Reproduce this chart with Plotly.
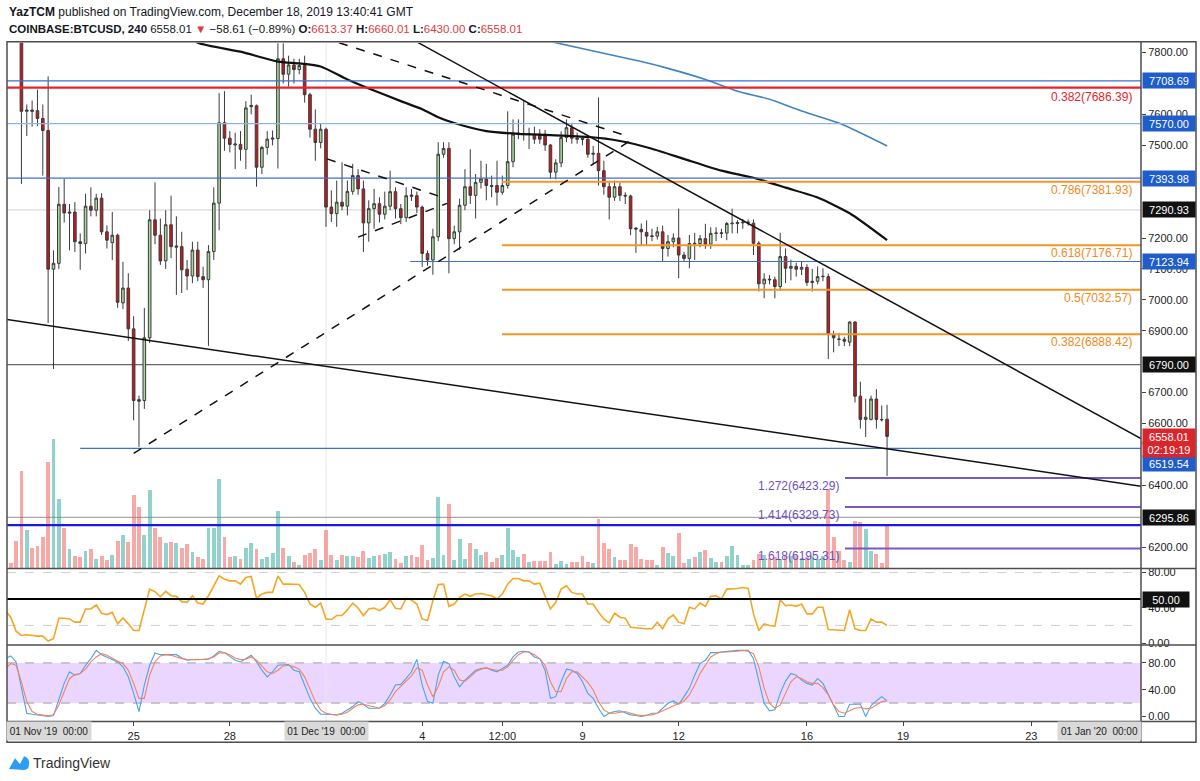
import plotly.graph_objects as go
import pandas as pd

W, H = 1200, 781
FONT = "Liberation Sans, Arial, sans-serif"


def px(x):
    return x / W


def py(y):
    return 1 - y / H


# ---------------- data (4h candles, COINBASE:BTCUSD) ----------------
bar_start = "2019-11-21 00:00"

opens = [
    8150, 8080, 8020, 7900, 7610, 7614, 7612, 7587, 7548, 7099,
    7118, 7309, 7280, 7284, 7188, 7182, 7303, 7290, 7329, 7220,
    7185, 7209, 6990, 7038, 6906, 6677, 6674, 6877, 7259, 7209,
    7126, 7243, 7170, 7172, 7099, 7077, 7161, 7075, 7065, 7156,
    7313, 7573, 7523, 7501, 7503, 7487, 7625, 7628, 7429, 7493,
    7520, 7522, 7780, 7730, 7760, 7745, 7758, 7664, 7552, 7509,
    7552, 7300, 7279, 7316, 7303, 7351, 7402, 7359, 7249, 7295,
    7311, 7277, 7303, 7350, 7295, 7266, 7339, 7337, 7300, 7150,
    7129, 7204, 7471, 7490, 7198, 7220, 7306, 7366, 7338, 7380,
    7391, 7370, 7370, 7348, 7370, 7447, 7536, 7538, 7535, 7535,
    7536, 7536, 7501, 7413, 7443, 7525, 7557, 7523, 7522, 7520,
    7471, 7474, 7418, 7366, 7332, 7366, 7338, 7336, 7232, 7228,
    7218, 7207, 7206, 7220, 7166, 7188, 7200, 7145, 7134, 7183,
    7182, 7198, 7180, 7215, 7217, 7216, 7246, 7247, 7249, 7250,
    7248, 7183, 7052, 7067, 7065, 7043, 7140, 7102, 7108, 7099,
    7105, 7056, 7060, 7075, 7075, 6888, 6873, 6872, 6863, 6928,
    6688, 6613, 6613, 6679, 6613, 6613.37,
]
highs = [
    8200, 8120, 8060, 7910, 7632, 7645, 7680, 7632, 7723, 7160,
    7365, 7391, 7310, 7316, 7215, 7343, 7364, 7343, 7345, 7241,
    7284, 7214, 7123, 7086, 6947, 6690, 6974, 7290, 7380, 7263,
    7290, 7337, 7270, 7220, 7129, 7188, 7188, 7107, 7177, 7364,
    7669, 7675, 7546, 7541, 7546, 7643, 7664, 7632, 7498, 7546,
    7548, 7830, 7830, 7790, 7780, 7780, 7790, 7670, 7616, 7570,
    7557, 7354, 7386, 7445, 7386, 7440, 7423, 7386, 7322, 7359,
    7332, 7350, 7418, 7364, 7310, 7364, 7359, 7350, 7305, 7160,
    7230, 7510, 7510, 7510, 7240, 7327, 7423, 7487, 7407, 7450,
    7440, 7402, 7450, 7402, 7610, 7584, 7584, 7643, 7557, 7560,
    7552, 7550, 7504, 7455, 7545, 7584, 7573, 7541, 7525, 7525,
    7498, 7655, 7450, 7380, 7386, 7380, 7348, 7340, 7236, 7247,
    7257, 7230, 7236, 7240, 7210, 7215, 7295, 7155, 7210, 7217,
    7210, 7246, 7235, 7235, 7230, 7252, 7295, 7258, 7262, 7260,
    7260, 7190, 7086, 7080, 7075, 7217, 7166, 7130, 7120, 7125,
    7115, 7100, 7108, 7102, 7085, 6900, 6893, 6880, 6931, 6931,
    6735, 6680, 6690, 6711, 6658, 6660.01,
]
lows = [
    8050, 7990, 7850, 7375, 7530, 7560, 7562, 7402, 6925, 6776,
    7100, 7250, 7160, 7155, 7097, 7150, 7270, 7270, 7210, 7166,
    7129, 6974, 6970, 6867, 6610, 6524, 6647, 6860, 7180, 7113,
    7100, 7135, 7016, 7022, 7032, 7054, 7060, 7038, 6851, 7129,
    7225, 7482, 7477, 7423, 7450, 7423, 7600, 7366, 7407, 7470,
    7500, 7425, 7700, 7690, 7700, 7730, 7638, 7525, 7450, 7490,
    7236, 7252, 7236, 7290, 7273, 7340, 7340, 7155, 7188, 7230,
    7250, 7260, 7290, 7263, 7245, 7252, 7320, 7280, 7107, 7110,
    7081, 7190, 7460, 7086, 7180, 7161, 7290, 7310, 7263, 7360,
    7322, 7332, 7305, 7340, 7360, 7429, 7520, 7515, 7488, 7505,
    7505, 7482, 7391, 7390, 7429, 7510, 7505, 7505, 7500, 7460,
    7439, 7370, 7340, 7260, 7320, 7320, 7310, 7209, 7152, 7177,
    7177, 7190, 7195, 7124, 7140, 7170, 7070, 7125, 7102, 7129,
    7170, 7165, 7165, 7190, 7200, 7193, 7215, 7215, 7230, 7240,
    7145, 7027, 7005, 7050, 7005, 7030, 7054, 7063, 7075, 7080,
    7045, 7027, 7050, 7060, 6808, 6830, 6850, 6850, 6850, 6668,
    6583, 6556, 6610, 6583, 6606, 6430.00,
]
closes = [
    8080, 8020, 7900, 7610, 7614, 7610, 7587, 7548, 7099, 7118,
    7309, 7281, 7284, 7188, 7182, 7303, 7290, 7329, 7220, 7193,
    7209, 6992, 7038, 6906, 6674, 6672, 6877, 7259, 7209, 7126,
    7243, 7172, 7174, 7097, 7077, 7161, 7075, 7065, 7156, 7313,
    7573, 7523, 7503, 7504, 7487, 7621, 7629, 7429, 7493, 7520,
    7523, 7780, 7730, 7760, 7745, 7758, 7664, 7552, 7509, 7552,
    7300, 7279, 7316, 7303, 7351, 7402, 7359, 7249, 7295, 7311,
    7277, 7303, 7350, 7295, 7266, 7337, 7335, 7300, 7150, 7129,
    7204, 7471, 7490, 7198, 7220, 7306, 7366, 7338, 7380, 7391,
    7370, 7367, 7348, 7370, 7447, 7536, 7539, 7535, 7537, 7520,
    7520, 7501, 7413, 7443, 7525, 7557, 7523, 7520, 7519, 7471,
    7474, 7418, 7366, 7332, 7366, 7338, 7336, 7230, 7229, 7220,
    7206, 7205, 7220, 7166, 7188, 7200, 7145, 7134, 7182, 7181,
    7198, 7180, 7215, 7216, 7215, 7247, 7248, 7250, 7251, 7251,
    7183, 7052, 7067, 7065, 7043, 7140, 7102, 7108, 7099, 7105,
    7056, 7060, 7075, 7076, 6888, 6877, 6872, 6866, 6928, 6688,
    6613, 6620, 6679, 6613, 6612, 6558.01,
]
# volume, hundreds of BTC
volumes = [
    8.3, 6, 28.3, 98.3, 39.3, 21, 23.3, 31.7, 107.7, 130.7,
    70, 41, 20, 12.7, 11.7, 18.3, 20, 10, 12.7, 9.3,
    14.3, 28.3, 34, 27.3, 75, 62.7, 34, 79.3, 41.3, 32.3,
    25.7, 27.3, 25.7, 21, 25, 16.7, 11.7, 10, 41.7, 41.7,
    90.7, 32.3, 11.7, 12.7, 10, 21, 25.7, 20, 10, 11.7,
    16, 58.3, 21, 12.7, 6.7, 4, 14.3, 16, 20, 9,
    39, 14.3, 9, 14.3, 12.7, 13.3, 11.7, 17.7, 10.7, 12.7,
    14.3, 15, 16.7, 10, 6, 13.3, 14.3, 11.7, 24, 9,
    10.7, 72.7, 14.3, 65, 9, 30, 10, 25.7, 20, 14.3,
    17.3, 6.7, 10.7, 14.3, 41.7, 19.3, 11.7, 15, 6.7, 7.7,
    7.7, 7.7, 17.3, 5, 7.7, 5, 6.7, 6.7, 12.7, 6.7,
    5.7, 50, 25.7, 20, 11.7, 9, 9, 25, 21.7, 10,
    9, 9, 4, 21.7, 15.7, 12.7, 36.7, 6, 10, 11.7,
    17.3, 19.3, 10.7, 6.7, 6.7, 13.3, 22.7, 14, 4, 4,
    9, 15, 14, 10.7, 11.7, 10, 13.3, 12.7, 13.3, 10.7,
    11.7, 12.7, 10, 13.3, 80.7, 32.3, 18.3, 9, 6.7, 48.3,
    47.3, 40, 18.3, 15, 5.7, 45.7,
]
rsi = [
    36.8, 29.3, 13.5, 8.6, 9.4, 8.6, 7.9, 7.9, 2.3, 4.9,
    28.2, 28.2, 27.4, 23.7, 23.7, 38.7, 38.7, 43.2, 33.8, 32.3,
    34.9, 21.8, 28.5, 21.8, 14.3, 14.3, 37.9, 61.2, 58.2, 52.6,
    58.6, 53.7, 53.0, 47.0, 46.2, 53.7, 45.4, 44.3, 53.7, 65.0,
    76.2, 72.5, 70.6, 70.6, 66.9, 74.4, 75.5, 50.7, 55.6, 57.5,
    57.5, 76.2, 66.9, 66.9, 66.9, 66.5, 57.5, 44.3, 40.6, 45.4,
    27.4, 26.7, 31.2, 31.2, 37.6, 45.4, 39.8, 31.2, 38.7, 39.8,
    36.8, 40.6, 49.2, 39.4, 38.7, 50.7, 48.8, 44.3, 27.4, 25.5,
    48.1, 66.5, 66.9, 41.7, 44.3, 51.8, 55.6, 53.0, 55.6, 56.3,
    54.8, 53.7, 50.0, 55.6, 66.9, 73.2, 73.2, 70.6, 70.6, 66.9,
    68.0, 53.7, 38.7, 46.2, 61.2, 65.0, 57.5, 55.6, 55.6, 44.3,
    44.3, 34.9, 27.4, 22.9, 33.8, 29.3, 28.2, 18.0, 17.3, 17.3,
    16.2, 16.2, 23.7, 16.2, 27.4, 31.9, 23.7, 21.8, 40.6, 38.7,
    45.4, 41.7, 53.0, 53.7, 50.0, 61.2, 61.2, 62.0, 63.1, 62.0,
    33.1, 14.3, 21.8, 19.9, 19.2, 49.2, 42.4, 43.2, 41.7, 44.3,
    33.1, 33.1, 40.6, 40.6, 15.4, 15.0, 15.0, 14.3, 37.9, 16.2,
    14.3, 14.3, 27.4, 23.7, 23.7, 19.9,
]
stoch_k = [
    86.4, 90.3, 81.5, 42.0, 4.9, 3.4, 2.4, 1.5, 0.0, 1.5,
    27.1, 49.4, 66.7, 61.7, 64.2, 76.5, 86.4, 98.7, 92.3, 88.9,
    85.4, 81.5, 74.1, 59.2, 34.5, 7.4, 46.9, 76.5, 94.8, 92.3,
    92.3, 92.3, 92.3, 87.4, 83.9, 84.9, 84.9, 84.9, 85.4, 90.3,
    97.3, 95.3, 88.9, 83.9, 81.5, 86.4, 91.3, 81.5, 69.1, 59.2,
    66.7, 76.5, 76.5, 77.5, 69.1, 66.7, 46.9, 27.1, 12.3, 3.4,
    3.4, 3.4, 2.4, 4.9, 9.9, 14.8, 22.2, 18.3, 12.3, 12.3,
    12.3, 19.7, 32.1, 46.9, 47.9, 56.8, 66.7, 85.4, 46.9, 22.2,
    19.7, 61.7, 82.5, 79.0, 59.2, 44.4, 54.3, 61.7, 69.1, 71.6,
    72.6, 69.1, 66.7, 71.6, 76.5, 88.9, 96.3, 97.3, 96.3, 88.9,
    86.4, 69.1, 27.1, 29.6, 51.8, 70.6, 69.1, 64.2, 51.8, 34.5,
    27.1, 12.3, 0.0, 4.9, 7.4, 8.4, 4.9, 2.4, 1.5, 0.0,
    1.5, 4.9, 4.9, 12.3, 19.7, 23.2, 18.3, 29.6, 42.0, 61.7,
    79.0, 83.9, 95.3, 95.3, 96.3, 96.3, 97.3, 98.7, 98.7, 98.7,
    86.4, 51.8, 19.7, 8.4, 9.9, 34.5, 52.8, 64.2, 61.7, 54.3,
    49.4, 46.9, 56.8, 49.4, 32.1, 17.3, 0.0, 0.0, 18.3, 18.3,
    18.3, 0.0, 16.3, 23.2, 29.6, 23.2,
]
stoch_d = [
    71.6, 79.0, 76.5, 51.8, 22.2, 7.4, 3.4, 2.4, 1.0, 2.4,
    17.3, 37.0, 56.8, 62.7, 64.2, 70.6, 81.5, 88.9, 93.8, 91.3,
    86.4, 82.5, 79.0, 69.1, 49.4, 27.1, 27.1, 61.7, 81.5, 90.3,
    92.3, 91.3, 88.9, 86.4, 85.4, 84.9, 84.9, 85.4, 86.4, 88.9,
    94.8, 95.3, 92.3, 87.4, 84.9, 85.4, 88.9, 83.9, 75.5, 66.7,
    64.2, 69.1, 75.5, 76.5, 74.1, 70.6, 59.2, 39.5, 22.2, 9.9,
    4.9, 3.4, 2.4, 3.4, 6.4, 12.3, 17.3, 18.3, 16.3, 13.3,
    12.3, 16.3, 24.7, 37.0, 44.4, 51.8, 60.7, 72.6, 69.1, 46.9,
    29.6, 44.4, 66.7, 74.1, 69.1, 54.3, 52.8, 59.2, 66.7, 70.6,
    72.6, 70.6, 69.1, 69.1, 74.1, 83.9, 92.3, 96.3, 96.3, 92.3,
    86.4, 76.5, 51.8, 37.0, 37.0, 56.8, 66.7, 66.7, 59.2, 50.8,
    39.5, 22.2, 9.9, 4.9, 4.9, 6.4, 7.4, 4.9, 2.4, 1.5,
    1.5, 2.4, 4.9, 8.4, 12.3, 16.3, 19.7, 23.2, 32.1, 46.9,
    64.2, 76.5, 88.9, 93.8, 96.3, 96.3, 96.3, 97.3, 98.7, 97.3,
    93.8, 74.1, 42.0, 19.7, 12.3, 17.3, 34.5, 51.8, 59.2, 56.8,
    51.8, 49.4, 49.4, 43.0, 32.1, 17.3, 7.4, 4.9, 8.4, 12.3,
    13.3, 11.3, 12.3, 17.3, 22.2, 23.2,
]

# moving averages read at selected bars (bar number counted from bar_start)
ma100_bars = [32, 36, 44, 51, 55, 59, 64, 68, 74, 78, 81, 84, 90, 96, 102, 109, 115, 121, 127, 134, 140, 146, 152, 158, 165]
ma100_vals = [7880, 7832, 7803, 7771, 7765, 7755, 7713, 7684, 7643, 7617, 7591, 7572, 7546, 7537, 7533, 7527, 7514,
              7489, 7456, 7418, 7395, 7363, 7331, 7280, 7193]
ma200_bars = [92, 103, 119, 124, 131, 137, 143, 149, 156, 165]
ma200_vals = [7880, 7832, 7771, 7749, 7713, 7675, 7649, 7611, 7572, 7498]

# horizontal levels
blue_levels = [7708.69, 7570.00, 7393.98, 7123.94, 6519.54]
blue_starts = [None, None, None, "2019-12-03 15:00", "2019-11-23 08:00"]
gray_levels = [7290.93, 6790.00, 6295.86]
fib_retr_levels = [7381.93, 7176.71, 7032.57, 6888.42]
fib_retr_ratios = ["0.786", "0.618", "0.5", "0.382"]
fib_retr_start = "2019-12-06 11:45"
red_level = 7686.39
red_ratio = "0.382"
fib_ext_levels = [6423.29, 6329.73, 6195.31]
fib_ext_ratios = ["1.272", "1.414", "1.618"]
fib_ext_start = "2019-12-17 04:30"
support_band = 6271

# trend lines (start date, start price, end date, end price, dashed)
trend_lines = [
    ("2019-11-21 01:12", 6936, "2019-12-26 10:05", 6397, False),
    ("2019-12-03 21:00", 7832, "2019-12-26 10:05", 6551, False),
    ("2019-11-25 00:00", 6503, "2019-12-10 11:30", 7514, True),
    ("2019-12-01 09:45", 7832, "2019-12-10 09:20", 7530, True),
    ("2019-12-01 00:45", 7456, "2019-12-04 15:35", 7331, True),
    ("2019-12-02 00:00", 7203, "2019-12-04 18:35", 7312, True),
]

price_ticks = [7800, 7600, 7500, 7200, 7100, 7000, 6900, 6700, 6600, 6400, 6200]
x_tick_dates = ["2019-11-25", "2019-11-28", "2019-12-01", "2019-12-04", "2019-12-06 12:00", "2019-12-09",
                "2019-12-12", "2019-12-16", "2019-12-19", "2019-12-23"]
x_tick_text = ["25", "28", "", "4", "12:00", "9", "12", "16", "19", "23"]

X_LEFT = "2019-11-21 01:12"
X_RIGHT = "2019-12-26 10:05"

# ---------------- figure ----------------
dates = pd.date_range(bar_start, periods=len(opens), freq="4h")

fig = go.Figure()

vol_colors = ["rgba(38,166,154,0.5)" if c >= o else "rgba(239,83,80,0.5)" for o, c in zip(opens, closes)]
fig.add_trace(go.Bar(x=dates, y=volumes, marker=dict(color=vol_colors, line=dict(width=0)),
                     width=4 * 3600 * 1000 * 0.72, xaxis="x", yaxis="y2", hoverinfo="skip"))

fig.add_trace(go.Candlestick(
    x=dates, open=opens, high=highs, low=lows, close=closes,
    increasing=dict(fillcolor="#a8d69b", line=dict(color="#3b3b3b", width=1)),
    decreasing=dict(fillcolor="#c8161d", line=dict(color="#3b3b3b", width=1)),
    whiskerwidth=0, xaxis="x", yaxis="y", hoverinfo="skip"))

fig.add_trace(go.Scatter(x=[dates[i] for i in ma100_bars], y=ma100_vals, mode="lines",
                         line=dict(color="#111111", width=2.2, shape="spline", smoothing=0.6),
                         xaxis="x", yaxis="y", hoverinfo="skip"))
fig.add_trace(go.Scatter(x=[dates[i] for i in ma200_bars], y=ma200_vals, mode="lines",
                         line=dict(color="#3f83c2", width=1.6, shape="spline", smoothing=0.6),
                         xaxis="x", yaxis="y", hoverinfo="skip"))

fig.add_trace(go.Scatter(x=dates, y=rsi, mode="lines", line=dict(color="#f5a623", width=1.6),
                         xaxis="x", yaxis="y3", hoverinfo="skip"))
fig.add_trace(go.Scatter(x=dates, y=stoch_k, mode="lines", line=dict(color="#4aa3ee", width=1.1),
                         xaxis="x", yaxis="y4", hoverinfo="skip"))
fig.add_trace(go.Scatter(x=dates, y=stoch_d, mode="lines", line=dict(color="#f3845a", width=1.1),
                         xaxis="x", yaxis="y4", hoverinfo="skip"))

shapes = []
# stoch band fill
shapes.append(dict(type="rect", xref="x domain", yref="y4", x0=0, x1=1, y0=20, y1=80,
                   fillcolor="rgba(153,51,255,0.2)", line=dict(width=0), layer="below"))
for lv in (80, 20):
    shapes.append(dict(type="line", xref="x domain", yref="y4", x0=0, x1=1, y0=lv, y1=lv,
                       line=dict(color="#a0a0a0", width=1, dash="dash"), layer="below"))
    shapes.append(dict(type="line", xref="x domain", yref="y3", x0=0, x1=1, y0=lv, y1=lv,
                       line=dict(color="#d0d0d0", width=1, dash="dash"), layer="below"))
shapes.append(dict(type="line", xref="x domain", yref="y3", x0=0, x1=1, y0=50, y1=50,
                   line=dict(color="#000000", width=2)))
# session break
shapes.append(dict(type="line", xref="x", yref="paper", x0="2019-12-01", x1="2019-12-01",
                   y0=py(725), y1=py(41), line=dict(color="#e6e6e6", width=1), layer="below"))

# horizontal levels
for p, s in zip(blue_levels, blue_starts):
    col = "#8fb3e6" if p == 7570.00 else "#3c6fd1"
    shapes.append(dict(type="line", xref="x", yref="y", x0=s or X_LEFT, x1=X_RIGHT, y0=p, y1=p,
                       line=dict(color=col, width=1.2)))
gray_cols = ["#dcdcdc", "#6a6a6a", "#a8a8a8"]
for p, c in zip(gray_levels, gray_cols):
    shapes.append(dict(type="line", xref="x", yref="y", x0=X_LEFT, x1=X_RIGHT, y0=p, y1=p,
                       line=dict(color=c, width=1.2), layer="below"))
shapes.append(dict(type="line", xref="x", yref="y", x0=X_LEFT, x1=X_RIGHT, y0=support_band, y1=support_band,
                   line=dict(color="#1a1adb", width=2.2)))
shapes.append(dict(type="line", xref="x", yref="y", x0=X_LEFT, x1=X_RIGHT, y0=red_level, y1=red_level,
                   line=dict(color="#e8232a", width=2.2)))
for p in fib_retr_levels:
    shapes.append(dict(type="line", xref="x", yref="y", x0=fib_retr_start, x1=X_RIGHT, y0=p, y1=p,
                       line=dict(color="#f39625", width=2)))
for p in fib_ext_levels:
    shapes.append(dict(type="line", xref="x", yref="y", x0=fib_ext_start, x1=X_RIGHT, y0=p, y1=p,
                       line=dict(color="#7b57c4", width=2)))
for x0, y0, x1, y1, dashed in trend_lines:
    shapes.append(dict(type="line", xref="x", yref="y", x0=x0, y0=y0, x1=x1, y1=y1,
                       line=dict(color="#111111", width=1.5, dash="dash" if dashed else "solid")))

# frame
FR = "#4d4d4d"
shapes.append(dict(type="rect", xref="paper", yref="paper", x0=px(7), x1=px(1196), y0=py(746), y1=py(40),
                   line=dict(color=FR, width=1.5)))
for yy in (571, 648, 725):
    shapes.append(dict(type="line", xref="paper", yref="paper", x0=px(7), x1=px(1196), y0=py(yy), y1=py(yy),
                       line=dict(color=FR, width=1.5)))
shapes.append(dict(type="line", xref="paper", yref="paper", x0=px(1141), x1=px(1141), y0=py(746), y1=py(40),
                   line=dict(color=FR, width=1.5)))
# TradingView logo mark
shapes.append(dict(type="path", xref="paper", yref="paper",
                   path=f"M {px(9)},{py(773)} L {px(15)},{py(762)} L {px(20)},{py(768)} L {px(24)},{py(760)} "
                        f"Q {px(30)},{py(762)} {px(29)},{py(768)} Q {px(29)},{py(774)} {px(24)},{py(774)} Z",
                   fillcolor="#2e9cf0", line=dict(width=0)))

ann = []
# header
ann.append(dict(xref="paper", yref="paper", x=px(7), y=py(10), xanchor="left", yanchor="middle", showarrow=False,
                text="<b>YazTCM</b> published on TradingView.com, December 18, 2019 13:40:41 GMT",
                font=dict(family=FONT, size=12, color="#131722")))
RC = "#e0393e"
ann.append(dict(xref="paper", yref="paper", x=px(7), y=py(27), xanchor="left", yanchor="middle", showarrow=False,
                text=("<b>COINBASE:BTCUSD, 240</b> 6558.01 <span style='color:%s'>▼</span> −58.61 (−0.89%%) "
                      "<b>O:</b><span style='color:%s'>6613.37</span> <b>H:</b><span style='color:%s'>6660.01</span> "
                      "<b>L:</b><span style='color:%s'>6430.00</span> <b>C:</b><span style='color:%s'>6558.01</span>")
                % (RC, RC, RC, RC, RC),
                font=dict(family=FONT, size=11.5, color="#131722")))

# price-axis boxes
BLUE_BOX = "#1f5ccc"
box_specs = [(p, BLUE_BOX, 0) for p in blue_levels[:4]]
box_specs += [(6519.54, BLUE_BOX, -15)]
box_specs += [(p, "#111111", 0) for p in gray_levels]
box_specs += [(closes[-1], "#d8262c", 0)]
for p, c, sh in box_specs:
    ann.append(dict(xref="paper", yref="y", x=px(1142), y=p, yshift=sh, xanchor="left", yanchor="middle",
                    showarrow=False, text=f"{p:.2f}", bgcolor=c, width=50, height=13, align="center",
                    font=dict(family=FONT, size=11, color="white")))
ann.append(dict(xref="paper", yref="y", x=px(1142), y=closes[-1], yshift=-13.5, xanchor="left", yanchor="middle",
                showarrow=False, text="02:19:19", bgcolor="#d8262c", width=50, height=13, align="center",
                font=dict(family=FONT, size=11, color="white")))
ann.append(dict(xref="paper", yref="y3", x=px(1142), y=50, xanchor="left", yanchor="middle",
                showarrow=False, text="50.00", bgcolor="#111111", width=44, height=13, align="center",
                font=dict(family=FONT, size=11, color="white")))

# fib labels
ann.append(dict(xref="paper", yref="y", x=px(1134), y=red_level, yshift=-9, xanchor="right", yanchor="middle",
                showarrow=False, text=f"{red_ratio}({red_level:.2f})", font=dict(family=FONT, size=12, color="#e8232a")))
for r, p in zip(fib_retr_ratios, fib_retr_levels):
    ann.append(dict(xref="paper", yref="y", x=px(1134), y=p, yshift=-8, xanchor="right", yanchor="middle",
                    showarrow=False, text=f"{r}({p:.2f})", font=dict(family=FONT, size=12, color="#f08a1c")))
for r, p in zip(fib_ext_ratios, fib_ext_levels):
    ann.append(dict(xref="x", yref="y", x=fib_ext_start, y=p, yshift=-8, xshift=-4, xanchor="right",
                    yanchor="middle", showarrow=False, text=f"{r}({p:.2f})",
                    font=dict(family=FONT, size=12, color="#6f4fc0")))

# time-axis boxes
for x0, x1, t in [(8, 90, "01 Nov '19  00:00"), (286, 367, "01 Dec '19  00:00"), (1059, 1140, "01 Jan '20  00:00")]:
    ann.append(dict(xref="paper", yref="paper", x=px((x0 + x1) / 2), y=py(735), xanchor="center", yanchor="middle",
                    showarrow=False, text=t, bgcolor="#d9d9d9", width=x1 - x0, height=16,
                    font=dict(family=FONT, size=10, color="#222")))

ann.append(dict(xref="paper", yref="paper", x=px(31), y=py(767), xanchor="left", yanchor="middle", showarrow=False,
                text="TradingView", font=dict(family=FONT, size=14, color="#333")))

AX_FONT = dict(family=FONT, size=11, color="#222")
fig.update_layout(
    width=W, height=H, margin=dict(l=0, r=0, t=0, b=0),
    paper_bgcolor="white", plot_bgcolor="white", showlegend=False, hovermode=False,
    bargap=0,
    xaxis=dict(domain=[px(7), px(1141)], range=[X_LEFT, X_RIGHT], anchor="y4", type="date",
               showgrid=False, zeroline=False, showline=False,
               tickmode="array", tickvals=x_tick_dates, ticktext=x_tick_text,
               ticks="outside", ticklen=4, tickcolor="#444", tickfont=AX_FONT,
               rangeslider=dict(visible=False), fixedrange=True),
    yaxis=dict(domain=[py(571), py(41)], range=[6130.1, 7832.1], side="right", anchor="x",
               showgrid=False, zeroline=False, tickmode="array", tickvals=price_ticks,
               ticktext=[f"{t:.2f}" for t in price_ticks], ticks="outside", ticklen=4, tickcolor="#444",
               tickfont=AX_FONT, fixedrange=True),
    yaxis2=dict(overlaying="y", range=[0, 530], visible=False, anchor="x", fixedrange=True),
    yaxis3=dict(domain=[py(648), py(571)], range=[-2.25, 84.5], side="right", anchor="x",
                showgrid=False, zeroline=False, tickmode="array", tickvals=[80, 40, 0],
                ticktext=["80.00", "40.00", "0.00"], ticks="outside", ticklen=4, tickcolor="#444",
                tickfont=AX_FONT, fixedrange=True),
    yaxis4=dict(domain=[py(725), py(648)], range=[-7.4, 106.7], side="right", anchor="x",
                showgrid=False, zeroline=False, tickmode="array", tickvals=[80, 40, 0],
                ticktext=["80.00", "40.00", "0.00"], ticks="outside", ticklen=4, tickcolor="#444",
                tickfont=AX_FONT, fixedrange=True),
    shapes=shapes, annotations=ann,
)

fig.write_html("out.html")
